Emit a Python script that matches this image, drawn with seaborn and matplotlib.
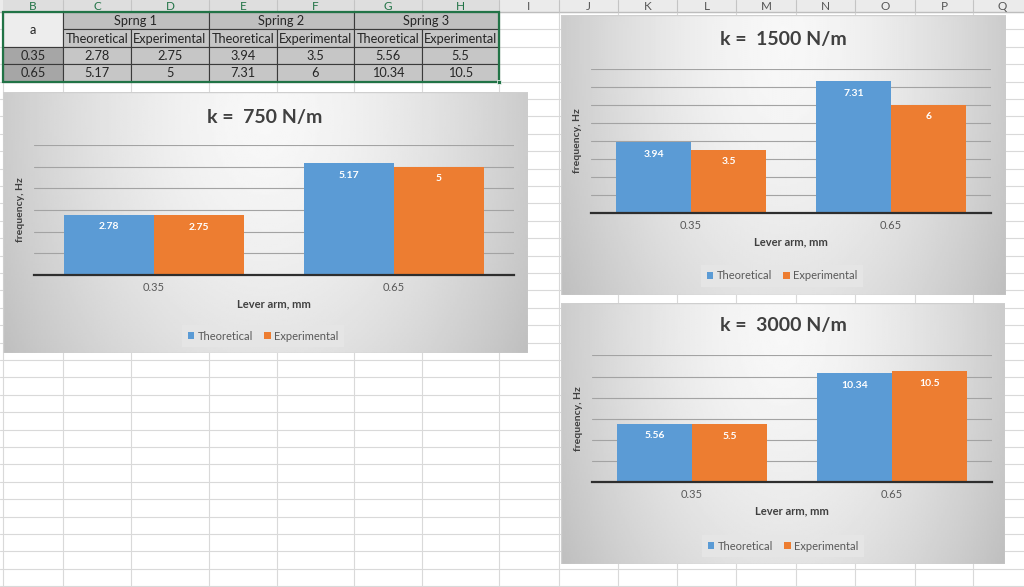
import numpy as np
import pandas as pd
import matplotlib
matplotlib.use("Agg")
import matplotlib.pyplot as plt
import seaborn as sns
from matplotlib.patches import Rectangle, Patch

# --- data (read from the sheet / charts) ---
lever_arm = ["0.35", "0.65"]
series_names = ["Theoretical", "Experimental"]
spring_titles = ["Sprng 1", "Spring 2", "Spring 3"]
stiffness = [750, 1500, 3000]
spring1_theo = [2.78, 5.17]
spring1_exp = [2.75, 5]
spring2_theo = [3.94, 7.31]
spring2_exp = [3.5, 6]
spring3_theo = [5.56, 10.34]
spring3_exp = [5.5, 10.5]
y_max = [6, 8, 12]
y_step = [1, 1, 2]
col_letters = list("BCDEFGHIJKLMNOPQ")

theo_all = [spring1_theo, spring2_theo, spring3_theo]
exp_all = [spring1_exp, spring2_exp, spring3_exp]

# --- layout in screen pixels ---
W, H = 1024, 587
col_edges = [3, 63, 131, 209, 277, 354, 422, 499, 559, 618, 677, 736, 796, 855, 915, 973, 1032]
row_h = 17.4
row_top = 12
chart_boxes = [(3, 92, 528, 353), (561, 15, 1006, 295), (561, 303, 1005, 564)]
plot_boxes = [(34, 145, 514, 275), (591, 68.5, 991, 213), (592, 355.4, 992, 482.3)]
title_pos = [(265, 117), (783, 40), (783, 325)]
legend_pos = [(263, 336), (782, 276), (783, 546)]

BLUE = "#5B9BD5"
ORANGE = "#ED7D31"
GREEN = "#217346"

sns.set_theme(style="white")
plt.rcParams["font.family"] = ["Lato", "DejaVu Sans"]


def rect(x0, y0, x1, y1):
    return [x0 / W, 1 - y1 / H, (x1 - x0) / W, (y1 - y0) / H]


fig = plt.figure(figsize=(W / 100, H / 100), dpi=100)

# spreadsheet background
bg = fig.add_axes([0, 0, 1, 1])
bg.set_xlim(0, W)
bg.set_ylim(H, 0)
bg.axis("off")

for x in col_edges:
    bg.plot([x, x], [row_top, H], color="#d9d9d9", lw=0.8, zorder=1)
y = row_top
while y < H:
    bg.plot([0, W], [y, y], color="#d9d9d9", lw=0.8, zorder=1)
    y += row_h

# column header strip
bg.add_patch(Rectangle((0, 0), W, row_top, fc="#ebebeb", ec="none", zorder=2))
bg.add_patch(Rectangle((col_edges[0], 0), col_edges[7] - col_edges[0], row_top, fc="#dedede", ec="none", zorder=2))
bg.plot([0, W], [row_top, row_top], color="#bdbdbd", lw=1, zorder=3)
for i, letter in enumerate(col_letters):
    cx = (col_edges[i] + col_edges[i + 1]) / 2
    bg.plot([col_edges[i + 1]] * 2, [0, row_top], color="#c4c4c4", lw=0.8, zorder=3)
    bg.text(cx, 6, letter, ha="center", va="center", fontsize=8.5,
            color=GREEN if i < 7 else "#555555", zorder=4)

# data table
ry = [row_top + row_h * k for k in range(5)]


def cell(c0, c1, r0, r1, text, fc):
    x0, x1 = col_edges[c0], col_edges[c1]
    y0, y1 = ry[r0], ry[r1]
    bg.add_patch(Rectangle((x0, y0), x1 - x0, y1 - y0, fc=fc, ec="#3a3a3a", lw=0.8, zorder=5))
    bg.text((x0 + x1) / 2, (y0 + y1) / 2 + 0.5, text, ha="center", va="center",
            fontsize=9.2, color="#262626", zorder=6)


cell(0, 1, 0, 2, "a", "#ededed")
for s in range(3):
    cell(1 + 2 * s, 3 + 2 * s, 0, 1, spring_titles[s], "#bfbfbf")
    cell(1 + 2 * s, 2 + 2 * s, 1, 2, series_names[0], "#c6c6c6")
    cell(2 + 2 * s, 3 + 2 * s, 1, 2, series_names[1], "#c6c6c6")
for r in range(2):
    cell(0, 1, 2 + r, 3 + r, lever_arm[r], "#a6a6a6")
    for s in range(3):
        cell(1 + 2 * s, 2 + 2 * s, 2 + r, 3 + r, f"{theo_all[s][r]:g}", "#c6c6c6")
        cell(2 + 2 * s, 3 + 2 * s, 2 + r, 3 + r, f"{exp_all[s][r]:g}", "#c6c6c6")
bg.add_patch(Rectangle((col_edges[0], ry[0]), col_edges[7] - col_edges[0], ry[4] - ry[0],
                       fc="none", ec=GREEN, lw=1.6, zorder=7))
bg.add_patch(Rectangle((col_edges[7] - 2, ry[4] - 2), 4, 4, fc=GREEN, ec="white", lw=0.5, zorder=8))

# gradient used for every chart area
gu, gv = np.meshgrid(np.linspace(0, 1, 240), np.linspace(0, 1, 140))
dist = np.sqrt(((gu - 0.5) / 0.55) ** 2 + ((gv - 0.1) / 1.6) ** 2)
shade = np.clip(0.97 - 0.2 * np.clip(dist, 0, 1.1) ** 1.6, 0, 1)

for i in range(3):
    bx0, by0, bx1, by1 = chart_boxes[i]
    outer = fig.add_axes(rect(*chart_boxes[i]))
    outer.set_xlim(bx0, bx1)
    outer.set_ylim(by1, by0)
    outer.axis("off")
    outer.imshow(shade, cmap="gray", vmin=0, vmax=1, extent=(bx0, bx1, by1, by0), aspect="auto")
    outer.add_patch(Rectangle((bx0, by0), bx1 - bx0, by1 - by0, fc="none", ec="#cfcfcf", lw=1))
    tx, ty = title_pos[i]
    outer.text(tx, ty, f"k =  {stiffness[i]} N/m", ha="center", va="center",
               fontsize=14, fontweight="bold", color="#404040")

    ax = fig.add_axes(rect(*plot_boxes[i]))
    ax.patch.set_alpha(0)
    df = pd.DataFrame({
        "lever": lever_arm * 2,
        "series": [series_names[0]] * 2 + [series_names[1]] * 2,
        "freq": theo_all[i] + exp_all[i],
    })
    sns.barplot(data=df, x="lever", y="freq", hue="series", palette=[BLUE, ORANGE],
                width=0.75, saturation=1, linewidth=0, ax=ax, legend=False)
    for cont in ax.containers:
        ax.bar_label(cont, fmt="{:g}", padding=-12, color="white", fontsize=7.5, fontweight="bold")

    ax.set_xlim(-0.5, 1.5)
    ax.set_ylim(0, y_max[i])
    ax.set_yticks(np.arange(0, y_max[i] + y_step[i], y_step[i]))
    ax.set_yticklabels([])
    ax.yaxis.grid(True, color="#a3a3a3", lw=0.8)
    ax.set_axisbelow(True)
    for side in ["left", "right", "top"]:
        ax.spines[side].set_visible(False)
    ax.spines["bottom"].set_color("#2e2e2e")
    ax.spines["bottom"].set_linewidth(1.6)
    ax.tick_params(axis="both", length=0)
    ax.tick_params(axis="x", pad=5, labelsize=8, labelcolor="#595959")
    ax.set_xlabel("Lever arm, mm", fontsize=8, fontweight="bold", color="#404040", labelpad=4)
    ax.set_ylabel("frequency, Hz", fontsize=7.5, fontweight="bold", color="#404040", labelpad=3)

    handles = [Patch(fc=BLUE, ec="none"), Patch(fc=ORANGE, ec="none")]
    lx, ly = legend_pos[i]
    leg = ax.legend(handles, series_names, loc="center", bbox_to_anchor=(lx, ly),
                    bbox_transform=outer.transData, ncol=2, fontsize=8,
                    handlelength=0.6, handleheight=0.6, handletextpad=0.3,
                    columnspacing=1.0, borderpad=0.5, frameon=True, fancybox=False,
                    facecolor="#e6e6e6", edgecolor="none", framealpha=0.9)
    for t in leg.get_texts():
        t.set_color("#595959")

fig.savefig("out.png", dpi=100)
